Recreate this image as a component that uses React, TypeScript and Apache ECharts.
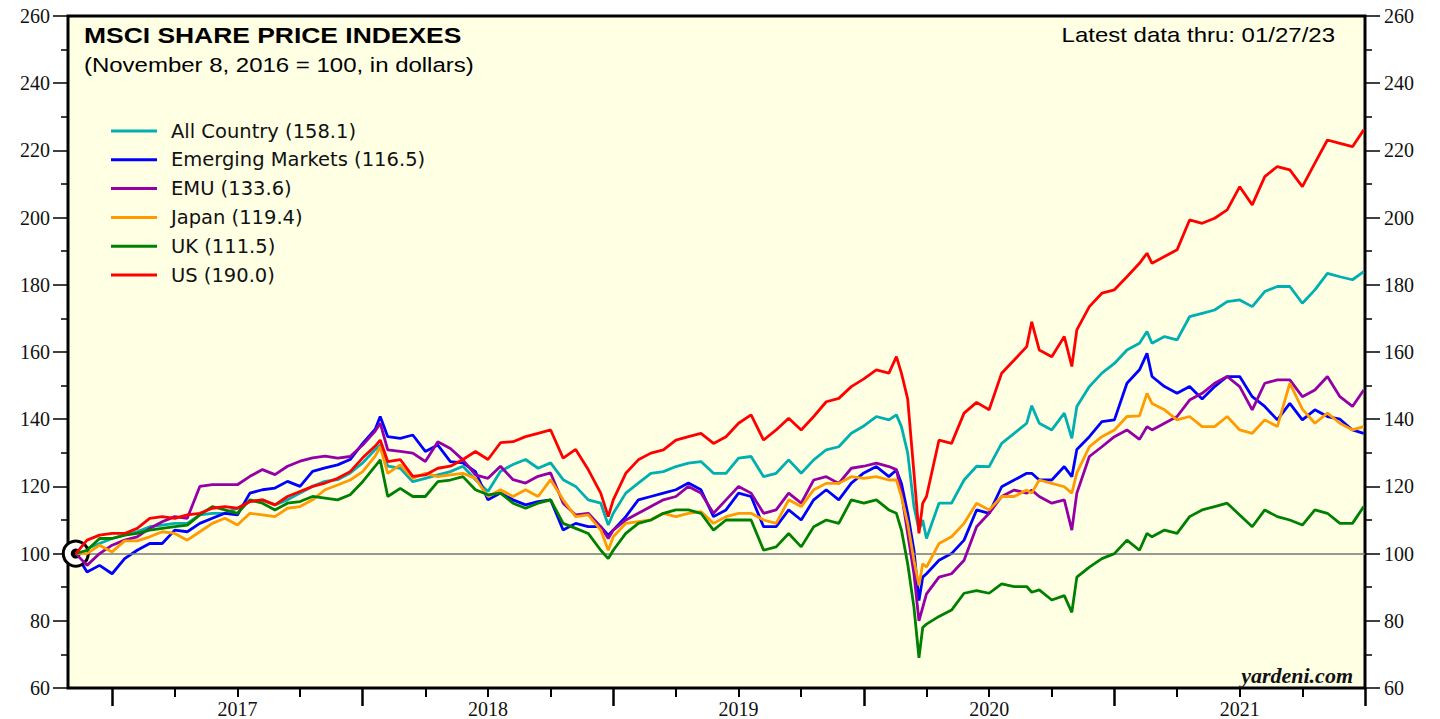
import React, { useEffect, useRef } from "react";
import * as echarts from "echarts";

// x positions as fractional years (Nov 8, 2016 = 2016.855)
const DATES = [
  2016.855, 2016.9, 2016.95, 2017.0, 2017.05, 2017.1, 2017.15, 2017.2, 2017.25, 2017.3,
  2017.35, 2017.4, 2017.45, 2017.5, 2017.55, 2017.6, 2017.65, 2017.7, 2017.75, 2017.8,
  2017.85, 2017.9, 2017.95, 2018.0, 2018.05, 2018.07, 2018.1, 2018.15, 2018.2, 2018.25,
  2018.3, 2018.35, 2018.4, 2018.45, 2018.5, 2018.55, 2018.6, 2018.65, 2018.7, 2018.75,
  2018.8, 2018.85, 2018.9, 2018.95, 2018.98, 2019.0, 2019.05, 2019.1, 2019.15, 2019.2,
  2019.25, 2019.3, 2019.35, 2019.4, 2019.45, 2019.5, 2019.55, 2019.6, 2019.65, 2019.7,
  2019.75, 2019.8, 2019.85, 2019.9, 2019.95, 2020.0, 2020.05, 2020.1, 2020.13, 2020.15,
  2020.175, 2020.2, 2020.22, 2020.235, 2020.25, 2020.3, 2020.35, 2020.4, 2020.45, 2020.5,
  2020.55, 2020.6, 2020.65, 2020.67, 2020.7, 2020.75, 2020.8, 2020.83, 2020.85, 2020.9,
  2020.95, 2021.0, 2021.05, 2021.1, 2021.13, 2021.15, 2021.2, 2021.25, 2021.3, 2021.35,
  2021.4, 2021.45, 2021.5, 2021.55, 2021.6, 2021.65, 2021.7, 2021.75, 2021.8, 2021.85,
  2021.9, 2021.95, 2021.995,
];

const ALL_COUNTRY = [
  100, 101.5, 103, 104.5, 105.5, 106.5, 108, 108.5, 109, 109,
  111.5, 112, 112, 113.5, 115.5, 116, 114.5, 116, 118, 120,
  121.5, 122, 124, 127, 131, 132.3, 126, 125.4, 121.4, 122.4,
  123.4, 124.4, 126, 122, 118.5, 124.5, 126.5, 128, 125.4, 127,
  122, 120, 116, 115, 108.5, 112, 118, 121, 123.9, 124.4,
  125.9, 126.9, 127.4, 123.9, 123.9, 128.4, 128.9, 122.9, 123.9, 127.9,
  123.9, 127.9, 130.9, 131.8, 135.8, 138, 140.8, 139.8, 141.3, 137.8,
  130, 114, 107, 110, 104.5, 115, 115, 121.9, 126, 125.9,
  132.8, 135.8, 138.8, 144, 138.8, 136.8, 141.8, 134.3, 143.8, 149.7,
  153.7, 156.6, 160.6, 162.6, 166.1, 162.6, 164.6, 163.6, 170.5, 171.5,
  172.5, 175, 175.5, 173.5, 178, 179.5, 179.5, 174.5, 178.5, 183.4,
  182.4, 181.5, 183.9,
];

const EMERGING = [
  100, 94.5, 96.5, 94, 98.5, 101, 103, 103, 107, 106.5,
  109, 110.5, 112, 111.5, 118, 119, 119.5, 121.5, 120, 124.5,
  125.5, 126.4, 128, 132.8, 137, 140.8, 134.8, 134.3, 135.3, 130.4,
  132.3, 127.4, 127, 124.4, 116, 118, 116, 114.5, 115.5, 116,
  107, 109, 108, 108, 105.5, 107, 111, 116, 117, 118,
  119, 121, 119, 111, 113, 118, 117, 108, 108, 113,
  110, 116, 119, 116, 121, 124, 125.9, 122.9, 124.9, 120.9,
  112, 101, 86, 93, 94, 98, 100, 104, 113, 112,
  119.9, 121.9, 123.9, 123.9, 121.9, 121.9, 125.9, 122.9, 131, 134.8,
  139.3, 139.8, 150.7, 154.7, 159.6, 152.7, 149.7, 147.7, 149.7, 146,
  149.7, 152.7, 152.7, 146.7, 143.8, 139.8, 144.7, 139.8, 142.8, 140.8,
  140, 136.8, 135.8,
];

const EMU = [
  100, 96.5, 100, 102.5, 104, 105, 107.5, 109.5, 111, 110.5,
  120, 120.5, 120.5, 120.5, 123, 125, 123.5, 126, 127.5, 128.5,
  129, 128.4, 128.9, 132.3, 136.5, 138.8, 130.9, 130.4, 129.9, 127.4,
  133.3, 131.3, 127.9, 123.4, 122.4, 126, 122, 121, 123, 124,
  115, 111.5, 112, 108, 104.5, 107, 110, 112, 114, 116,
  117, 120, 118, 112, 116, 120, 118, 112, 113, 118,
  115, 121.9, 122.9, 120.9, 125.4, 126, 126.9, 125.9, 125, 118,
  106, 94, 80, 84, 88, 93, 94, 98, 108, 112,
  117, 118.9, 118, 118.9, 117, 115, 116, 107, 118, 128.9,
  131.8, 134.8, 136.8, 134, 137.8, 136.8, 138.8, 140.8, 145.7, 147.7,
  150.7, 152.7, 149.7, 142.8, 150.7, 151.7, 151.7, 146.7, 148.7, 152.7,
  146.7, 143.8, 148.7,
];

const JAPAN = [
  100, 100, 102.5, 100.5, 103.8, 103.8, 105, 106.5, 106, 104,
  106.5, 109, 110.5, 108.5, 112, 111.5, 111, 113.5, 114, 116,
  119, 120.4, 121.9, 124.4, 129, 131.8, 123.9, 126.4, 122.4, 123.9,
  122.9, 123.4, 123.9, 122.4, 117, 119, 117, 119, 117, 122,
  116, 111, 111.5, 107, 101, 105, 109, 109.5, 110, 112,
  111, 112, 112.5, 109, 111, 112, 112, 110, 109, 116,
  114, 119, 120.9, 120.9, 122.9, 122.4, 122.9, 121.9, 121.9, 117,
  109, 98, 90.5, 97, 96, 103, 105, 109, 115, 113,
  117, 117, 118.9, 118, 121.9, 120.9, 119.9, 118, 124, 131.8,
  134.8, 136.8, 140.8, 141, 147.7, 144.7, 142.8, 139.8, 140.8, 137.8,
  137.8, 140.8, 136.8, 135.8, 139.8, 137.8, 150.7, 143, 138.8, 141.8,
  138.8, 136.8, 137.8,
];

const UK = [
  100, 101, 104.5, 104.5, 105.5, 106, 107, 107.5, 108, 108.5,
  111.5, 114, 113, 112, 116, 115, 113, 115, 115.5, 117,
  116.5, 116, 117.5, 121.4, 126, 127.9, 117, 119.4, 117, 117,
  121.4, 121.9, 122.9, 119, 117.5, 118, 115, 113.5, 115, 116,
  109, 107.5, 106, 101, 98.5, 101, 106, 109, 110, 112,
  113, 113, 112, 107, 110, 110, 110, 101, 102, 106,
  102, 108, 110, 109, 116, 115, 116, 113, 112, 107,
  97, 84, 69, 78, 79, 81.3, 83.2, 88.2, 89, 88.2,
  91, 90.2, 90.2, 88.5, 89.2, 86.2, 87.5, 82.5, 93, 96,
  98.5, 100, 104, 101, 106, 105, 107, 106, 111, 113,
  114, 115, 111.5, 108, 113, 111, 110, 108.5, 113, 112,
  109, 109, 114,
];

const US = [
  100, 104, 105.5, 106, 106, 107.5, 110.5, 111, 110.5, 111.5,
  112, 113.5, 114, 113.5, 115.5, 116, 114.5, 117, 118.5, 120,
  121, 122.4, 124.4, 128.5, 132, 133.8, 127.4, 128, 123, 123.4,
  125.4, 126, 128, 130.4, 128, 133, 133.3, 134.8, 135.8, 136.8,
  128.4, 131, 125, 118, 111, 116, 123.9, 127.9, 129.9, 130.9,
  133.8, 134.8, 135.8, 132.8, 134.8, 138.8, 141.3, 133.8, 136.8, 140.3,
  136.8, 140.8, 145.2, 146.2, 149.7, 152, 154.7, 153.7, 158.6, 153.7,
  146, 124, 106, 115, 117, 133.8, 132.8, 141.8, 145, 142.8,
  153.7, 157.6, 161.6, 169, 160.6, 158.6, 164.6, 155.7, 166.6, 173.5,
  177.5, 178.5, 182.4, 186.4, 189.4, 186.4, 188.4, 190.4, 199.3, 198.3,
  199.8, 202.3, 209.2, 203.8, 212.2, 215.2, 214.2, 209.2, 216.2, 223.1,
  222.1, 221.1, 226.1,
];

const SERIES_NAMES = [
  "All Country (158.1)",
  "Emerging Markets (116.5)",
  "EMU (133.6)",
  "Japan (119.4)",
  "UK (111.5)",
  "US (190.0)",
];
const SERIES_VALUES = [ALL_COUNTRY, EMERGING, EMU, JAPAN, UK, US];
const SERIES_COLORS = ["#00AFAF", "#0000FF", "#9400A6", "#FF9A00", "#008000", "#FF0000"];

const Y_MIN = 60;
const Y_MAX = 260;
const Y_STEP = 20;
const X_MIN = 2016.824;
const X_MAX = 2022.0;
const YEAR_TICKS = [2017, 2018, 2019, 2020, 2021, 2022];
const QUARTER_TICKS = [
  2017.25, 2017.5, 2017.75, 2018.25, 2018.5, 2018.75, 2019.25, 2019.5, 2019.75,
  2020.25, 2020.5, 2020.75, 2021.25, 2021.5, 2021.75,
];
const YEAR_LABEL_POS = [2017.5, 2018.5, 2019.5, 2020.5, 2021.5];
const YEAR_LABELS = ["2017", "2018", "2019", "2020", "2021"];
const BASE_DATE = 2016.855;
const BASE_VALUE = 100;

const SERIF = '"Liberation Serif", "Times New Roman", serif';
const SANS = '"Liberation Sans", Arial, sans-serif';

export default function App() {
  const ref = useRef<HTMLDivElement | null>(null);

  useEffect(() => {
    if (!ref.current) return;
    const chart = echarts.init(ref.current, null, { renderer: "svg" });

    const yAxisCommon = {
      type: "value",
      min: Y_MIN,
      max: Y_MAX,
      interval: Y_STEP,
      axisLine: { show: false },
      splitLine: { show: false },
      axisTick: { show: true, length: 15, lineStyle: { color: "#000", width: 1.5 } },
      minorTick: { show: true, splitNumber: 2, length: 7, lineStyle: { color: "#000", width: 1.5 } },
      minorSplitLine: { show: false },
    };

    const series: any[] = SERIES_VALUES.map((vals, i) => ({
      name: SERIES_NAMES[i],
      type: "line",
      data: DATES.map((d, j) => [d, vals[j]]),
      showSymbol: false,
      symbol: "none",
      lineStyle: { width: 2.8, color: SERIES_COLORS[i] },
      itemStyle: { color: SERIES_COLORS[i] },
      emphasis: { disabled: true },
      z: 3 + i,
    }));

    series[0].markLine = {
      silent: true,
      symbol: ["none", "none"],
      label: { show: false },
      lineStyle: { color: "#777", width: 1.5, type: "solid" },
      data: [{ yAxis: BASE_VALUE }],
    };

    series[5].markPoint = {
      silent: true,
      label: { show: false },
      data: [
        {
          coord: [BASE_DATE, BASE_VALUE],
          symbol: "circle",
          symbolSize: 25,
          itemStyle: { color: "#fff", borderColor: "#000", borderWidth: 3 },
        },
        {
          coord: [BASE_DATE, BASE_VALUE],
          symbol: "circle",
          symbolSize: 10,
          itemStyle: { color: "#000", borderWidth: 0 },
        },
      ],
    };

    chart.setOption({
      animation: false,
      color: SERIES_COLORS,
      grid: {
        left: 68,
        right: 75,
        top: 16,
        bottom: 31,
        show: true,
        backgroundColor: "#FFFFE4",
        borderColor: "#000",
        borderWidth: 3,
      },
      legend: {
        orient: "vertical",
        left: 111,
        top: 121,
        padding: 0,
        itemGap: 8.8,
        itemWidth: 46,
        itemHeight: 3,
        icon: "rect",
        selectedMode: false,
        data: SERIES_NAMES,
        textStyle: {
          fontFamily: '"DejaVu Sans", sans-serif',
          fontSize: 19.5,
          color: "#111",
          lineHeight: 20,
          padding: [0, 0, 0, 9],
        },
      },
      xAxis: [
        {
          type: "value",
          min: X_MIN,
          max: X_MAX,
          position: "bottom",
          axisLine: { show: false },
          splitLine: { show: false },
          axisTick: {
            show: true,
            customValues: YEAR_TICKS,
            length: 18,
            lineStyle: { color: "#000", width: 2.5 },
          },
          axisLabel: {
            show: true,
            customValues: YEAR_LABEL_POS,
            margin: 11,
            color: "#111",
            fontFamily: SERIF,
            fontSize: 20,
            formatter: (v: number) => {
              const k = YEAR_LABEL_POS.findIndex((p) => Math.abs(p - v) < 1e-6);
              return k >= 0 ? YEAR_LABELS[k] : "";
            },
          },
        },
        {
          type: "value",
          min: X_MIN,
          max: X_MAX,
          position: "bottom",
          axisLine: { show: false },
          splitLine: { show: false },
          axisLabel: { show: false },
          axisTick: {
            show: true,
            customValues: QUARTER_TICKS,
            length: 9,
            lineStyle: { color: "#000", width: 2 },
          },
        },
      ],
      yAxis: [
        {
          ...yAxisCommon,
          position: "left",
          axisLabel: { color: "#111", fontFamily: SERIF, fontSize: 20, margin: 18 },
        },
        {
          ...yAxisCommon,
          position: "right",
          axisLabel: { color: "#111", fontFamily: SERIF, fontSize: 20, margin: 19 },
        },
      ],
      graphic: [
        {
          type: "text",
          x: 84,
          y: 35,
          scaleX: 1.23,
          z: 20,
          style: {
            text: "MSCI SHARE PRICE INDEXES",
            font: `bold 21.5px ${SANS}`,
            fill: "#000",
            textAlign: "left",
            textVerticalAlign: "middle",
            verticalAlign: "middle",
          },
        },
        {
          type: "text",
          x: 84,
          y: 65,
          scaleX: 1.17,
          z: 20,
          style: {
            text: "(November 8, 2016 = 100, in dollars)",
            font: `20.5px ${SANS}`,
            fill: "#000",
            textAlign: "left",
            textVerticalAlign: "middle",
            verticalAlign: "middle",
          },
        },
        {
          type: "text",
          x: 1335,
          y: 35,
          scaleX: 1.2,
          z: 20,
          style: {
            text: "Latest data thru: 01/27/23",
            font: `20px ${SANS}`,
            fill: "#000",
            textAlign: "right",
            textVerticalAlign: "middle",
            verticalAlign: "middle",
          },
        },
        {
          type: "text",
          x: 1353,
          y: 675,
          z: 20,
          style: {
            text: "yardeni.com",
            font: `italic bold 22px ${SERIF}`,
            fill: "#111",
            textAlign: "right",
            textVerticalAlign: "middle",
            verticalAlign: "middle",
          },
        },
      ],
      series,
    });

    return () => {
      chart.dispose();
    };
  }, []);

  return (
    <div
      ref={ref}
      style={{ position: "absolute", left: 0, top: 0, width: 1440, height: 719, background: "#fff" }}
    />
  );
}
